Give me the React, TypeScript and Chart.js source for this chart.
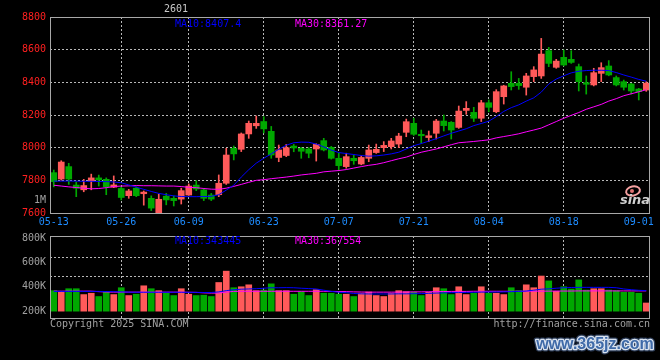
import React, { useEffect, useRef } from 'react';
import { Chart, registerables } from 'chart.js';

Chart.register(...registerables);

// ---------- data ----------
const DATES = [
  '05-13', '05-14', '05-15', '05-16', '05-19', '05-20', '05-21', '05-22', '05-23', '05-26',
  '05-27', '05-28', '05-29', '05-30', '06-03', '06-04', '06-05', '06-06', '06-09', '06-10',
  '06-11', '06-12', '06-13', '06-16', '06-17', '06-18', '06-19', '06-20', '06-23', '06-24',
  '06-25', '06-26', '06-27', '06-30', '07-01', '07-02', '07-03', '07-04', '07-07', '07-08',
  '07-09', '07-10', '07-11', '07-14', '07-15', '07-16', '07-17', '07-18', '07-21', '07-22',
  '07-23', '07-24', '07-25', '07-28', '07-29', '07-30', '07-31', '08-01', '08-04', '08-05',
  '08-06', '08-07', '08-08', '08-11', '08-12', '08-13', '08-14', '08-15', '08-18', '08-19',
  '08-20', '08-21', '08-22', '08-25', '08-26', '08-27', '08-28', '08-29', '09-01', '09-02',
];

const OPEN = [
  7847, 7808, 7884, 7771, 7742, 7795, 7815, 7806, 7758, 7750,
  7706, 7752, 7718, 7690, 7600, 7703, 7690, 7685, 7710, 7771,
  7741, 7710, 7712, 7782, 7996, 7990, 8084, 8134, 8160, 8100,
  7940, 7952, 8010, 7996, 7992, 7992, 8043, 8002, 7935, 7884,
  7935, 7900, 7935, 7970, 8000, 8006, 8022, 8094, 8149, 8082,
  8062, 8088, 8163, 8155, 8124, 8228, 8216, 8180, 8275, 8220,
  8312, 8394, 8394, 8370, 8435, 8439, 8594, 8492, 8553, 8541,
  8496, 8398, 8384, 8455, 8500, 8429, 8404, 8390, 8359, 8353,
];
const HIGH = [
  7863, 7920, 7904, 7790, 7806, 7838, 7832, 7815, 7827, 7758,
  7745, 7760, 7735, 7705, 7716, 7720, 7704, 7752, 7778, 7798,
  7751, 7720, 7833, 7996, 8010, 8090, 8163, 8194, 8190, 8130,
  8016, 8020, 8020, 8002, 8000, 8024, 8057, 8008, 7966, 7966,
  7955, 7950, 8016, 8022, 8037, 8057, 8088, 8175, 8180, 8108,
  8102, 8173, 8200, 8160, 8255, 8282, 8247, 8290, 8292, 8355,
  8382, 8465, 8424, 8455, 8496, 8669, 8614, 8541, 8598, 8594,
  8512, 8439, 8486, 8520, 8533, 8439, 8414, 8394, 8363, 8404,
];
const LOW = [
  7760, 7800, 7775, 7700, 7730, 7742, 7765, 7712, 7755, 7680,
  7690, 7700, 7648, 7615, 7590, 7650, 7643, 7655, 7708, 7737,
  7676, 7676, 7700, 7775, 7925, 7976, 8057, 8118, 8090, 7935,
  7914, 7945, 7975, 7935, 7938, 7918, 7980, 7930, 7863, 7874,
  7898, 7895, 7914, 7965, 7976, 7992, 8000, 8067, 8075, 8027,
  8037, 8053, 8102, 8053, 8118, 8204, 8160, 8160, 8220, 8214,
  8267, 8353, 8357, 8322, 8404, 8424, 8496, 8486, 8500, 8516,
  8347, 8328, 8378, 8404, 8440, 8378, 8353, 8328, 8292, 8345,
];
const CLOSE = [
  7792, 7912, 7808, 7752, 7768, 7815, 7803, 7760, 7772, 7695,
  7735, 7706, 7728, 7630, 7684, 7680, 7676, 7737, 7765, 7747,
  7690, 7685, 7782, 7955, 7962, 8084, 8149, 8149, 8115, 7955,
  7986, 8000, 7998, 7978, 7966, 8020, 7986, 7935, 7890, 7945,
  7920, 7940, 7986, 7990, 8014, 8041, 8071, 8159, 8082, 8073,
  8073, 8163, 8135, 8108, 8224, 8241, 8180, 8275, 8247, 8343,
  8378, 8374, 8380, 8439, 8476, 8573, 8516, 8530, 8506, 8522,
  8404, 8388, 8459, 8490, 8445, 8384, 8370, 8347, 8343, 8395,
];
const MA10 = [
  7795, 7795, 7796, 7795, 7794, 7794, 7793, 7792, 7790, 7785,
  7772, 7758, 7745, 7732, 7720, 7712, 7705, 7701, 7700, 7700,
  7701, 7702, 7712, 7740, 7770, 7820, 7865, 7905, 7935, 7962,
  7990, 8015, 8030, 8034, 8033, 8022, 8005, 7985, 7970, 7964,
  7958, 7952, 7948, 7950, 7955, 7962, 7972, 7992, 8012, 8025,
  8040, 8055, 8072, 8088, 8102, 8116, 8135, 8148, 8162, 8190,
  8222, 8245, 8262, 8285, 8305, 8340, 8390, 8420, 8440, 8458,
  8468, 8472, 8474, 8474, 8472, 8460, 8445, 8432, 8418, 8407,
];
const MA30 = [
  7770, 7765, 7760, 7756, 7752, 7748, 7750, 7755, 7762, 7765,
  7766, 7768, 7767, 7767, 7766, 7765, 7765, 7762, 7757, 7755,
  7750, 7746, 7745, 7752, 7763, 7775, 7788, 7800, 7804, 7810,
  7815, 7820, 7826, 7833, 7838, 7843, 7852, 7856, 7860, 7866,
  7875, 7884, 7892, 7898, 7908, 7920, 7932, 7942, 7958, 7972,
  7982, 7992, 8005, 8018, 8030, 8034, 8038, 8043, 8048, 8060,
  8068, 8076, 8085, 8097, 8108, 8120, 8140, 8160, 8180, 8198,
  8215, 8235, 8250, 8265, 8285, 8300, 8318, 8330, 8342, 8355,
];
const VOLUME = [
  368000, 360000, 384000, 384000, 336000, 347000, 320000, 360000, 336000, 392000,
  328000, 339000, 408000, 384000, 368000, 347000, 328000, 384000, 339000, 328000,
  331000, 320000, 435000, 528000, 392000, 400000, 416000, 368000, 373000, 424000,
  368000, 368000, 339000, 360000, 328000, 376000, 347000, 347000, 339000, 339000,
  320000, 347000, 357000, 328000, 320000, 347000, 368000, 360000, 357000, 328000,
  355000, 392000, 384000, 336000, 400000, 336000, 347000, 400000, 347000, 347000,
  336000, 392000, 368000, 416000, 392000, 488000, 448000, 363000, 400000, 381000,
  456000, 373000, 384000, 384000, 373000, 368000, 355000, 355000, 347000, 267000,
];
const VOL_MA10 = [
  362000, 362000, 362000, 362000, 362000, 362000, 362000, 361000, 360000, 358000,
  356000, 355000, 355000, 355000, 355000, 355000, 355000, 355000, 354000, 354000,
  353000, 353000, 358000, 368000, 376000, 380000, 382000, 384000, 388000, 392000,
  392000, 393000, 392000, 388000, 385000, 382000, 372000, 362000, 355000, 352000,
  345000, 342000, 341000, 341000, 341000, 341000, 342000, 342000, 343000, 344000,
  346000, 348000, 350000, 352000, 352000, 354000, 355000, 356000, 357000, 357000,
  358000, 360000, 362000, 365000, 372000, 380000, 383000, 388000, 392000, 394000,
  395000, 395000, 395000, 395000, 395000, 392000, 382000, 376000, 371000, 368000,
];
const VOL_MA30 = [
  364000, 364000, 364000, 364000, 364000, 364000, 360000, 357000, 356000, 356000,
  356000, 356000, 356000, 356000, 356000, 356000, 356000, 356000, 355000, 354000,
  350000, 348000, 348000, 356000, 362000, 363000, 363000, 363000, 363000, 363000,
  363000, 363000, 363000, 363000, 363000, 363000, 363000, 362000, 361000, 360000,
  358000, 357000, 356000, 356000, 356000, 356000, 356000, 357000, 358000, 358000,
  359000, 360000, 361000, 362000, 362000, 362000, 363000, 363000, 363000, 363000,
  363000, 363000, 363000, 363000, 364000, 364000, 364000, 365000, 365000, 365000,
  366000, 366000, 366000, 366000, 366000, 366000, 366000, 366000, 366000, 366000,
];

const PRICE_MIN = 7600;
const PRICE_MAX = 8800;
const PRICE_TICKS = [7600, 7800, 8000, 8200, 8400, 8600, 8800];
const VOL_MIN = 144000;
const VOL_MAX = 816000;
const VOL_BASE = 200000;
const VOL_TICKS = [200000, 400000, 600000, 800000];
const VOL_GRID = [488000, 648000];
const TICK_DATES = ['05-13', '05-26', '06-09', '06-23', '07-07', '07-21', '08-04', '08-18', '09-01'];
const GRID_DATES = ['05-26', '06-09', '06-23', '07-07', '07-21', '08-04', '08-18'];

const TITLE = '2601';
const MA10_TEXT = 'MA10:8407.4';
const MA30_TEXT = 'MA30:8361.27';
const VOL_MA10_TEXT = 'MA10:343445';
const VOL_MA30_TEXT = 'MA30:367554';
const UNIT_TEXT = '1M';
const COPYRIGHT = 'Copyright 2025 SINA.COM';
const SITE = 'http://finance.sina.com.cn';
const WATERMARK = 'www.365jz.com';

// ---------- styles ----------
const MONO = '"DejaVu Sans Mono", "Liberation Mono", monospace';
const RED = '#ff5a5a';
const GREEN = '#00a800';
const BLUE = '#0000ff';
const MAGENTA = '#ff00ff';
const GRID = '#b8b8b8';
const FRAME = '#a8a8a8';
const DATE_COLOR = '#1e8cff';
const PRICE_COLOR = '#ff2020';
const GREY_TEXT = '#a0a0a0';
const NONE = 'rgba(0,0,0,0)';

const MAIN_H = 230;
const VOL_TOP = 226;
const VOL_H = 134;

function xScale(showLabels: boolean, height: number) {
  return {
    type: 'category',
    offset: true,
    grid: {
      offset: false,
      drawTicks: false,
      lineWidth: 1,
      color: (c: any) => (GRID_DATES.includes(DATES[c.index]) ? GRID : NONE),
    },
    border: { display: false, dash: [2, 2] },
    ticks: {
      display: showLabels,
      autoSkip: false,
      maxRotation: 0,
      minRotation: 0,
      padding: 3,
      color: DATE_COLOR,
      font: { family: MONO, size: 10 },
      callback: (_v: any, i: number) => (TICK_DATES.includes(DATES[i]) ? DATES[i] : ''),
    },
    afterFit: (s: any) => {
      s.height = height;
    },
  };
}

function drawFrame(ctx: CanvasRenderingContext2D, a: any) {
  ctx.save();
  ctx.setLineDash([]);
  ctx.strokeStyle = FRAME;
  ctx.lineWidth = 1;
  const l = Math.round(a.left) + 0.5;
  const t = Math.round(a.top) + 0.5;
  const r = Math.round(a.right) - 0.5;
  const b = Math.round(a.bottom) + 0.5;
  ctx.strokeRect(l, t, r - l, b - t);
  ctx.restore();
}

const mainDecor = {
  id: 'mainDecor',
  afterDraw(chart: any) {
    const { ctx, chartArea: a } = chart;
    drawFrame(ctx, a);
    ctx.save();
    ctx.font = `10px ${MONO}`;
    ctx.textBaseline = 'middle';
    ctx.textAlign = 'center';
    ctx.fillStyle = '#c8c8c8';
    ctx.fillText(TITLE, a.left + 126, 9);
    ctx.textAlign = 'left';
    ctx.fillStyle = BLUE;
    ctx.fillText(MA10_TEXT, a.left + 125, a.top + 7);
    ctx.fillStyle = MAGENTA;
    ctx.fillText(MA30_TEXT, a.left + 245, a.top + 7);
    ctx.textAlign = 'right';
    ctx.fillStyle = GREY_TEXT;
    ctx.fillText(UNIT_TEXT, a.left - 4, a.bottom - 13);
    // sina logo
    ctx.strokeStyle = '#f4a0a0';
    ctx.lineWidth = 2;
    ctx.beginPath();
    ctx.ellipse(a.right - 17, a.bottom - 22, 7, 4.5, -0.2, 0, Math.PI * 2);
    ctx.stroke();
    ctx.fillStyle = '#e07070';
    ctx.beginPath();
    ctx.arc(a.right - 18, a.bottom - 22, 2, 0, Math.PI * 2);
    ctx.fill();
    ctx.font = 'italic bold 13px "DejaVu Sans"';
    ctx.fillStyle = '#cfcfcf';
    ctx.textAlign = 'center';
    ctx.fillText('sina', a.right - 15, a.bottom - 12);
    ctx.restore();
  },
};

const volDecor = {
  id: 'volDecor',
  beforeDatasetsDraw(chart: any) {
    const { ctx, chartArea: a, scales } = chart;
    ctx.save();
    ctx.strokeStyle = GRID;
    ctx.lineWidth = 1;
    ctx.setLineDash([2, 2]);
    VOL_GRID.forEach((v) => {
      const y = Math.round(scales.y.getPixelForValue(v)) + 0.5;
      ctx.beginPath();
      ctx.moveTo(a.left, y);
      ctx.lineTo(a.right, y);
      ctx.stroke();
    });
    ctx.restore();
  },
  afterDraw(chart: any) {
    const { ctx, chartArea: a } = chart;
    drawFrame(ctx, a);
    ctx.save();
    ctx.font = `10px ${MONO}`;
    ctx.textBaseline = 'middle';
    ctx.textAlign = 'left';
    ctx.fillStyle = BLUE;
    ctx.fillText(VOL_MA10_TEXT, a.left + 125, a.top + 5);
    ctx.fillStyle = MAGENTA;
    ctx.fillText(VOL_MA30_TEXT, a.left + 245, a.top + 5);
    ctx.fillStyle = GREY_TEXT;
    ctx.fillText(COPYRIGHT, a.left, a.bottom + 6);
    ctx.textAlign = 'right';
    ctx.fillText(SITE, a.right, a.bottom + 6);
    // watermark
    ctx.font = 'bold 16px "Liberation Sans", Arial, sans-serif';
    ctx.textAlign = 'center';
    ctx.lineJoin = 'round';
    ctx.strokeStyle = '#2a3a55';
    ctx.lineWidth = 5;
    ctx.strokeText(WATERMARK, 595, 119);
    ctx.strokeStyle = '#d8e2f0';
    ctx.lineWidth = 2.5;
    ctx.strokeText(WATERMARK, 595, 119);
    ctx.fillStyle = '#3f6aa8';
    ctx.fillText(WATERMARK, 595, 119);
    ctx.restore();
  },
};

export default function App() {
  const mainRef = useRef<HTMLCanvasElement>(null);
  const volRef = useRef<HTMLCanvasElement>(null);

  useEffect(() => {
    const colors = CLOSE.map((c, i) => (c >= OPEN[i] ? RED : GREEN));
    const wicks = LOW.map((l, i) => [l, HIGH[i]]);
    const bodies = OPEN.map((o, i) => [o, CLOSE[i]]);
    const volBars = VOLUME.map((v) => [VOL_BASE, v]);

    const main = new Chart(mainRef.current as HTMLCanvasElement, {
      type: 'bar',
      data: {
        labels: DATES,
        datasets: [
          {
            type: 'line',
            data: MA10,
            borderColor: BLUE,
            borderWidth: 1,
            pointRadius: 0,
            tension: 0,
            order: 0,
          },
          {
            type: 'line',
            data: MA30,
            borderColor: MAGENTA,
            borderWidth: 1,
            pointRadius: 0,
            tension: 0,
            order: 0,
          },
          {
            type: 'bar',
            data: bodies as any,
            backgroundColor: colors,
            borderWidth: 0,
            barThickness: 6,
            grouped: false,
            order: 1,
          },
          {
            type: 'bar',
            data: wicks as any,
            backgroundColor: colors,
            borderWidth: 0,
            barThickness: 1,
            grouped: false,
            order: 2,
          },
        ] as any,
      },
      options: {
        responsive: false,
        animation: false,
        events: [],
        layout: { padding: { top: 17, right: 10, left: 0, bottom: 0 } },
        plugins: { legend: { display: false }, tooltip: { enabled: false } },
        scales: {
          x: xScale(true, 17) as any,
          y: {
            min: PRICE_MIN,
            max: PRICE_MAX,
            afterBuildTicks: (s: any) => {
              s.ticks = PRICE_TICKS.map((v) => ({ value: v }));
            },
            grid: {
              drawTicks: false,
              color: (c: any) =>
                c.tick && (c.tick.value === PRICE_MIN || c.tick.value === PRICE_MAX) ? NONE : GRID,
            },
            border: { display: false, dash: [2, 2] },
            ticks: {
              padding: 4,
              color: PRICE_COLOR,
              font: { family: MONO, size: 10 },
              callback: (v: any) => String(v),
            },
            afterFit: (s: any) => {
              s.width = 50;
            },
          } as any,
        },
      },
      plugins: [mainDecor],
    });

    const vol = new Chart(volRef.current as HTMLCanvasElement, {
      type: 'bar',
      data: {
        labels: DATES,
        datasets: [
          {
            type: 'line',
            data: VOL_MA10,
            borderColor: BLUE,
            borderWidth: 1,
            pointRadius: 0,
            tension: 0,
            order: 0,
          },
          {
            type: 'line',
            data: VOL_MA30,
            borderColor: MAGENTA,
            borderWidth: 1,
            pointRadius: 0,
            tension: 0,
            order: 0,
          },
          {
            type: 'bar',
            data: volBars as any,
            backgroundColor: colors,
            borderWidth: 0,
            barThickness: 6,
            grouped: false,
            order: 1,
          },
        ] as any,
      },
      options: {
        responsive: false,
        animation: false,
        events: [],
        layout: { padding: { top: 8, right: 10, left: 0, bottom: 0 } },
        plugins: { legend: { display: false }, tooltip: { enabled: false } },
        scales: {
          x: xScale(false, 42) as any,
          y: {
            min: VOL_MIN,
            max: VOL_MAX,
            afterBuildTicks: (s: any) => {
              s.ticks = VOL_TICKS.map((v) => ({ value: v }));
            },
            grid: { display: false, drawTicks: false },
            border: { display: false },
            ticks: {
              padding: 4,
              color: GREY_TEXT,
              font: { family: MONO, size: 10 },
              callback: (v: any) => `${Math.round(v / 1000)}K`,
            },
            afterFit: (s: any) => {
              s.width = 50;
            },
          } as any,
        },
      },
      plugins: [volDecor],
    });

    return () => {
      main.destroy();
      vol.destroy();
    };
  }, []);

  return (
    <div
      style={{
        position: 'fixed',
        left: 0,
        top: 0,
        width: 660,
        height: 360,
        background: '#000',
        overflow: 'hidden',
      }}
    >
      <canvas
        ref={mainRef}
        width={660}
        height={MAIN_H}
        style={{ position: 'absolute', left: 0, top: 0, width: 660, height: MAIN_H }}
      />
      <canvas
        ref={volRef}
        width={660}
        height={VOL_H}
        style={{ position: 'absolute', left: 0, top: VOL_TOP, width: 660, height: VOL_H }}
      />
    </div>
  );
}
